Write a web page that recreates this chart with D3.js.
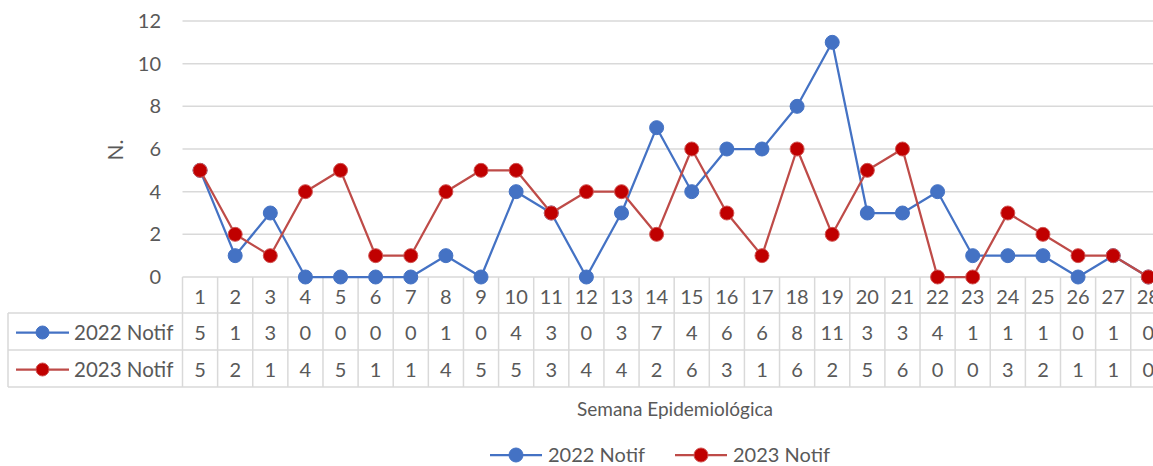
<!DOCTYPE html>
<html>
<head>
<meta charset="utf-8">
<script src="https://cdn.jsdelivr.net/npm/d3@7"></script>
<style>
  body { margin: 0; background: #fff; }
  svg { display: block; font-family: Lato, "Open Sans", sans-serif; }
</style>
</head>
<body>
<svg id="chart" width="1153" height="466"></svg>
<script>
// data
const weeks = d3.range(1, 29).map(String);
const notif2022 = [5,1,3,0,0,0,0,1,0,4,3,0,3,7,4,6,6,8,11,3,3,4,1,1,1,0,1,0];
const notif2023 = [5,2,1,4,5,1,1,4,5,5,3,4,4,2,6,3,1,6,2,5,6,0,0,3,2,1,1,0];
const yTicks = [0, 2, 4, 6, 8, 10, 12];
const seriesNames = ['2022 Notif', '2023 Notif'];

const W = 1153, H = 466;
const margin = { left: 182.5, top: 21, bottom: 277 };
const textColor = '#595959', gridColor = '#d9d9d9';
const lineColors = ['#4472C4', '#BE4B48'];
const fillColors = ['#4472C4', '#C00000'];
const strokeColors = ['#4472C4', '#D05452'];

const svg = d3.select('#chart');

const x = d3.scaleBand().domain(weeks).range([margin.left, margin.left + 28 * 35.12]);
const y = d3.scaleLinear().domain([0, 12]).range([margin.bottom, margin.top]);

// gridlines
svg.append('g').selectAll('line').data(yTicks).enter().append('line')
  .attr('x1', margin.left).attr('x2', W)
  .attr('y1', d => y(d)).attr('y2', d => y(d))
  .attr('stroke', gridColor).attr('stroke-width', 1.5);

// y tick labels
svg.append('g').selectAll('text').data(yTicks).enter().append('text')
  .attr('x', 161).attr('y', d => y(d)).attr('dy', '0.35em')
  .attr('text-anchor', 'end').attr('fill', textColor).attr('font-size', 20)
  .text(d => d);

// y axis title
svg.append('text')
  .attr('transform', 'translate(123,150) rotate(-90)')
  .attr('text-anchor', 'middle').attr('fill', textColor).attr('font-size', 21)
  .text('N.');

// data table
const rowTop = [277, 313, 350], rowBottom = 387;
const tbl = svg.append('g');
const cells = tbl.append('g');
// horizontal lines
[rowTop[1], rowTop[2], rowBottom].forEach(yy => {
  cells.append('line').attr('x1', 8).attr('x2', W).attr('y1', yy).attr('y2', yy)
    .attr('stroke', gridColor).attr('stroke-width', 1.5);
});
// vertical lines
const vx = weeks.map(w => x(w)).concat([x(weeks[27]) + x.bandwidth()]);
cells.selectAll('.vl').data(vx).enter().append('line')
  .attr('x1', d => d).attr('x2', d => d).attr('y1', rowTop[0]).attr('y2', rowBottom)
  .attr('stroke', gridColor).attr('stroke-width', 1.5);
cells.append('line').attr('x1', 8).attr('x2', 8).attr('y1', rowTop[1]).attr('y2', rowBottom)
  .attr('stroke', gridColor).attr('stroke-width', 1.5);

// header row: week numbers
tbl.selectAll('.wk').data(weeks).enter().append('text')
  .attr('x', d => x(d) + x.bandwidth() / 2).attr('y', (rowTop[0] + rowTop[1]) / 2 + 2)
  .attr('dy', '0.35em').attr('text-anchor', 'middle')
  .attr('fill', textColor).attr('font-size', 20).text(d => d);

[notif2022, notif2023].forEach((vals, i) => {
  const cy = (rowTop[i + 1] + (i === 0 ? rowTop[2] : rowBottom)) / 2 + 1;
  tbl.append('g').selectAll('text').data(vals).enter().append('text')
    .attr('x', (d, j) => x(weeks[j]) + x.bandwidth() / 2).attr('y', cy)
    .attr('dy', '0.35em').attr('text-anchor', 'middle')
    .attr('fill', textColor).attr('font-size', 20).text(d => d);
  // legend key inside table
  tbl.append('line').attr('x1', 16).attr('x2', 69).attr('y1', cy).attr('y2', cy)
    .attr('stroke', lineColors[i]).attr('stroke-width', 2.25);
  tbl.append('circle').attr('cx', 42.5).attr('cy', cy).attr('r', 6.5)
    .attr('fill', fillColors[i]).attr('stroke', strokeColors[i]).attr('stroke-width', 1);
  tbl.append('text').attr('x', 74).attr('y', cy).attr('dy', '0.35em')
    .attr('fill', textColor).attr('font-size', 20.5).text(seriesNames[i]);
});

// series lines + markers
const line = d3.line().x((d, j) => x(weeks[j]) + x.bandwidth() / 2).y(d => y(d));
[notif2022, notif2023].forEach((vals, i) => {
  const g = svg.append('g');
  g.append('path').datum(vals).attr('d', line)
    .attr('fill', 'none').attr('stroke', lineColors[i]).attr('stroke-width', 2.25)
    .attr('stroke-linejoin', 'round');
  g.selectAll('circle').data(vals).enter().append('circle')
    .attr('cx', (d, j) => x(weeks[j]) + x.bandwidth() / 2).attr('cy', d => y(d))
    .attr('r', 7).attr('fill', fillColors[i])
    .attr('stroke', strokeColors[i]).attr('stroke-width', 1);
});

// x axis title
svg.append('text').attr('x', 675).attr('y', 409).attr('dy', '0.35em')
  .attr('text-anchor', 'middle').attr('fill', textColor).attr('font-size', 19)
  .text('Semana Epidemiológica');

// legend
const legendX = [490, 675];
seriesNames.forEach((name, i) => {
  const lg = svg.append('g').attr('transform', `translate(${legendX[i]},455)`);
  lg.append('line').attr('x1', 0).attr('x2', 52).attr('stroke', lineColors[i]).attr('stroke-width', 2.25);
  lg.append('circle').attr('cx', 26).attr('r', 7).attr('fill', fillColors[i])
    .attr('stroke', strokeColors[i]).attr('stroke-width', 1);
  lg.append('text').attr('x', 58).attr('dy', '0.35em').attr('fill', textColor)
    .attr('font-size', 20).text(name);
});
</script>
</body>
</html>
